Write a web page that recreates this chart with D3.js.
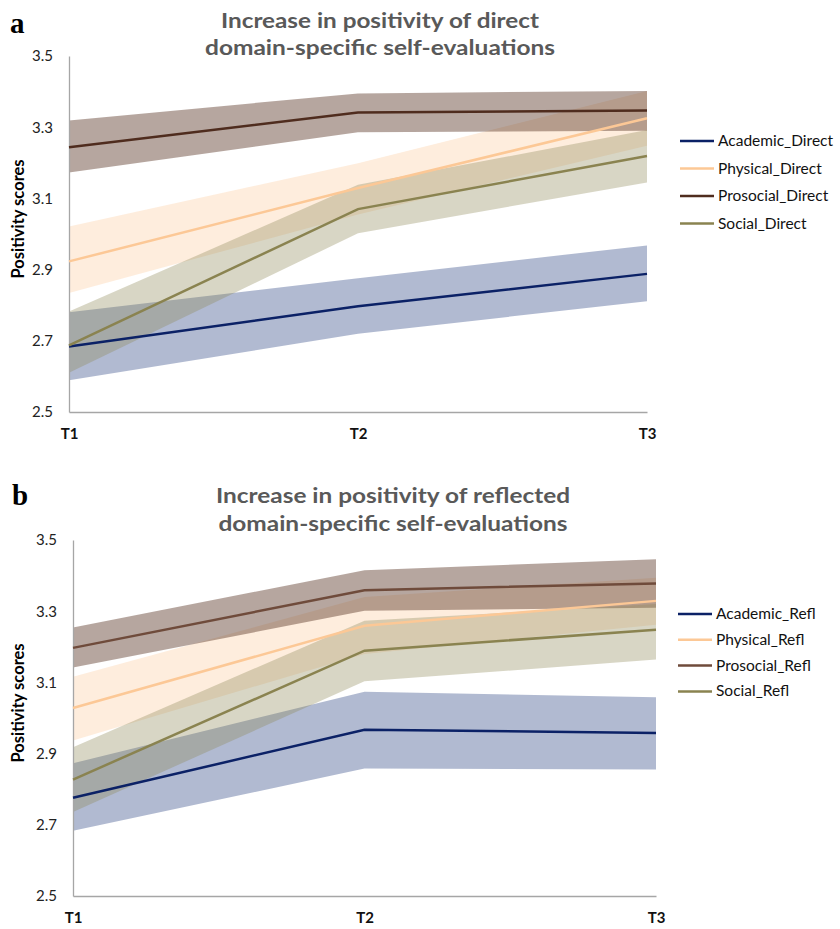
<!DOCTYPE html>
<html>
<head>
<meta charset="utf-8">
<script src="https://cdn.jsdelivr.net/npm/d3@7"></script>
<style>
  html, body { margin: 0; padding: 0; background: #fff; }
  svg { display: block; }
</style>
</head>
<body>
<svg id="chart" width="840" height="929"></svg>
<script>
// ---------- DATA ----------
const timepoints = ["T1", "T2", "T3"];
const yTicks = [2.5, 2.7, 2.9, 3.1, 3.3, 3.5];
const domains = ["Academic", "Physical", "Prosocial", "Social"];

// Panel a: direct self-evaluations
const directMean = {
  Academic:  [2.684, 2.797, 2.888],
  Physical:  [2.923, 3.129, 3.325],
  Prosocial: [3.244, 3.341, 3.347],
  Social:    [2.687, 3.070, 3.219]
};
const directLow = {
  Academic:  [2.589, 2.720, 2.811],
  Physical:  [2.834, 3.055, 3.248],
  Prosocial: [3.173, 3.286, 3.290],
  Social:    [2.610, 3.002, 3.145]
};
const directHigh = {
  Academic:  [2.780, 2.876, 2.968],
  Physical:  [3.021, 3.199, 3.402],
  Prosocial: [3.319, 3.395, 3.402],
  Social:    [2.782, 3.138, 3.292]
};

// Panel b: reflected self-evaluations
const reflMean = {
  Academic:  [2.776, 2.967, 2.958],
  Physical:  [3.028, 3.259, 3.329],
  Prosocial: [3.197, 3.359, 3.378],
  Social:    [2.827, 3.189, 3.248]
};
const reflLow = {
  Academic:  [2.683, 2.858, 2.855],
  Physical:  [2.937, 3.180, 3.262],
  Prosocial: [3.142, 3.301, 3.310],
  Social:    [2.736, 3.103, 3.164]
};
const reflHigh = {
  Academic:  [2.873, 3.074, 3.058],
  Physical:  [3.116, 3.340, 3.394],
  Prosocial: [3.254, 3.415, 3.446],
  Social:    [2.918, 3.273, 3.320]
};

const directNames = ["Academic_Direct", "Physical_Direct", "Prosocial_Direct", "Social_Direct"];
const reflNames = ["Academic_Refl", "Physical_Refl", "Prosocial_Refl", "Social_Refl"];

// ---------- STYLES ----------
const lineColorsA = { Academic: "#0b2166", Physical: "#fcc896", Prosocial: "#4f2c1e", Social: "#8a8350" };
const lineColorsB = { Academic: "#0b2166", Physical: "#fcc896", Prosocial: "#6f4b3b", Social: "#8a8350" };
const bandColors = { Academic: "#1f3a7a", Physical: "#fbc38f", Prosocial: "#5e3a2a", Social: "#8f8a5a" };
const bandOpacity = { Academic: 0.35, Physical: 0.3, Prosocial: 0.45, Social: 0.35 };

const svg = d3.select("#chart");
const FONT = "Lato, 'Open Sans', sans-serif";

function drawPanel(cfg) {
  const g = svg.append("g");
  const x = d3.scalePoint().domain(timepoints).range([cfg.x0, cfg.x1]);
  const y = d3.scaleLinear().domain([2.5, 3.5]).range([cfg.yBottom, cfg.yTop]);

  // panel letter
  g.append("text").attr("x", cfg.letterX).attr("y", cfg.letterY)
    .attr("font-family", "'Liberation Serif', 'DejaVu Serif', serif")
    .attr("font-weight", "bold").attr("font-size", 29).attr("fill", "#000")
    .text(cfg.letter);

  // title
  cfg.title.forEach((t, i) => {
    g.append("text").attr("x", cfg.titleX).attr("y", cfg.titleY[i])
      .attr("text-anchor", "middle").attr("font-family", FONT)
      .attr("font-weight", "bold").attr("font-size", 20.5).attr("fill", "#595959")
      .attr("textLength", cfg.titleW[i]).attr("lengthAdjust", "spacingAndGlyphs")
      .text(t);
  });

  // bands
  const area = d3.area()
    .x((d, i) => x(timepoints[i]))
    .y0(d => y(d[0]))
    .y1(d => y(d[1]));
  domains.forEach(dm => {
    const pts = cfg.low[dm].map((v, i) => [v, cfg.high[dm][i]]);
    g.append("path").datum(pts).attr("d", area)
      .attr("fill", bandColors[dm]).attr("fill-opacity", bandOpacity[dm]);
  });

  // axes
  const yAxis = d3.axisLeft(y).tickValues(yTicks).tickSize(0).tickPadding(16)
    .tickFormat(d3.format(".1f"));
  const ya = g.append("g").attr("transform", `translate(${cfg.x0},0)`).call(yAxis);
  ya.select(".domain").attr("stroke", "#a6a6a6").attr("stroke-width", 1.3);
  ya.selectAll("text").attr("font-family", FONT).attr("font-size", 15).attr("fill", "#222");

  const xAxis = d3.axisBottom(x).tickSize(0).tickPadding(16);
  const xa = g.append("g").attr("transform", `translate(0,${cfg.yBottom})`).call(xAxis);
  xa.select(".domain").attr("stroke", "#a6a6a6").attr("stroke-width", 1.3);
  xa.selectAll("text").attr("font-family", FONT).attr("font-weight", "bold")
    .attr("font-size", 15).attr("fill", "#111");

  // y label
  const cy = (cfg.yTop + cfg.yBottom) / 2 - 15;
  g.append("text").attr("transform", `translate(${cfg.yLabelX},${cy}) rotate(-90)`)
    .attr("text-anchor", "middle").attr("font-family", FONT).attr("font-weight", "bold")
    .attr("font-size", 16.5).attr("fill", "#000").text("Positivity scores");

  // lines
  const line = d3.line().x((d, i) => x(timepoints[i])).y(d => y(d));
  domains.forEach(dm => {
    g.append("path").datum(cfg.mean[dm]).attr("d", line)
      .attr("fill", "none").attr("stroke", cfg.lineColors[dm]).attr("stroke-width", 2.5);
  });

  // legend
  domains.forEach((dm, i) => {
    const ly = cfg.legY + i * cfg.legStep;
    g.append("line").attr("x1", cfg.legX).attr("x2", cfg.legX + 34)
      .attr("y1", ly).attr("y2", ly)
      .attr("stroke", cfg.lineColors[dm]).attr("stroke-width", 2.5);
    g.append("text").attr("x", cfg.legX + 38).attr("y", ly + 5)
      .attr("font-family", FONT).attr("font-size", 15.5).attr("fill", "#111")
      .text(cfg.names[i]);
  });
}

drawPanel({
  letter: "a", letterX: 10, letterY: 33,
  title: ["Increase in positivity of direct", "domain-specific self-evaluations"],
  titleX: 380, titleY: [28, 55], titleW: [318, 350],
  x0: 69, x1: 647, yTop: 56, yBottom: 412,
  yLabelX: 24,
  mean: directMean, low: directLow, high: directHigh,
  lineColors: lineColorsA, names: directNames,
  legX: 680, legY: 141, legStep: 27.5
});

drawPanel({
  letter: "b", letterX: 12, letterY: 505,
  title: ["Increase in positivity of reflected", "domain-specific self-evaluations"],
  titleX: 393, titleY: [503, 531], titleW: [354, 349],
  x0: 73, x1: 656, yTop: 540, yBottom: 896,
  yLabelX: 24,
  mean: reflMean, low: reflLow, high: reflHigh,
  lineColors: lineColorsB, names: reflNames,
  legX: 678, legY: 614, legStep: 25.8
});
</script>
</body>
</html>
